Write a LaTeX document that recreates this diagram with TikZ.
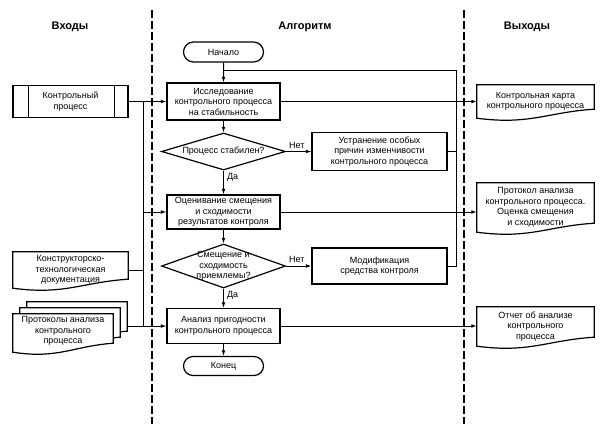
\documentclass[tikz,border=0pt]{standalone}
\usepackage{fontspec}
\setmainfont{Liberation Sans}
\usetikzlibrary{shapes.geometric,shapes.misc,arrows.meta,calc}
\tikzset{
  txt/.style={font=\fontsize{9}{10.5}\selectfont, align=center, inner sep=0pt},
  hdr/.style={font=\fontsize{11}{13}\selectfont\bfseries, inner sep=0pt},
  proc/.style={txt, draw, line width=1.2pt, minimum width=113pt, minimum height=#1},
  term/.style={txt, draw, line width=1.2pt, rounded rectangle, minimum width=80pt, minimum height=#1},
  dec/.style={draw, line width=1.2pt, diamond, inner sep=0pt, minimum width=124pt, minimum height=#1},
  docbox/.style={txt, minimum width=#1},
  docline/.style={line width=1.2pt},
  conn/.style={line width=1pt},
  arr/.style={line width=1pt, -{Latex[length=5.5pt,width=3.8pt]}},
  lane/.style={line width=1.2pt, dash pattern=on 8pt off 3pt},
}
\newcommand\docpath[2][]{\draw[docline,#1] (#2.north west) -- (#2.north east) -- ([yshift=9pt]#2.south east) .. controls ($(#2.south west)!0.6!(#2.south east)+(0,6pt)$) and ($(#2.south west)!0.45!(#2.south east)+(0,-7pt)$) .. (#2.south west) -- cycle;}
\begin{document}
\begin{tikzpicture}[x=1pt,y=-1pt]
\useasboundingbox (0,0) rectangle (605,424);
% lanes
\draw[lane] (152,10) -- (152,424);
\draw[lane] (464,10) -- (464,424);
\node[hdr] (h1) at (70,27) {Входы};
\node[hdr] (h2) at (305,27) {Алгоритм};
\node[hdr] (h3) at (527,27) {Выходы};
% algorithm
\node[term=20pt] (start) at (223.5,52) {Начало};
\node[proc=37pt] (b1) at (223.5,101.5) {Исследование\\контрольного процесса\\на стабильность};
\node[dec=37pt] (d1) at (223.5,151.5) {};
\node[txt] (d1t) at (d1) {Процесс стабилен?};
\node[proc=38pt, minimum width=135pt] (f1) at (379.5,151.5) {Устранение особых\\причин изменчивости\\контрольного процесса};
\node[proc=34pt] (b2) at (223.5,212) {Оценивание смещения\\и сходимости\\результатов контроля};
\node[dec=44pt] (d2) at (223.5,266) {};
\node[txt] (d2t) at (d2) {Смещение и\\сходимость\\приемлемы?};
\node[proc=36pt, minimum width=135pt] (f2) at (379.5,266) {Модификация\\средства контроля};
\node[proc=35pt] (b5) at (223.5,326) {Анализ пригодности\\контрольного процесса};
\node[term=19pt] (end) at (223.5,366) {Конец};
% inputs
\node[txt, draw, line width=1.2pt, minimum width=115pt, minimum height=32pt] (in1) at (70.5,101.5) {Контрольный\\процесс};
\draw[docline] ([xshift=16pt]in1.north west) -- ([xshift=16pt]in1.south west);
\draw[docline] ([xshift=-14pt]in1.north east) -- ([xshift=-14pt]in1.south east);
\node[docbox=115pt, minimum height=36pt] (in2) at (70.5,270) {Конструкторско-\\технологическая\\документация};
\docpath{in2}
\node[docbox=100pt, minimum height=38pt] (pr3) at (77,321) {};
\node[docbox=100pt, minimum height=38pt] (pr2) at (70,327) {};
\node[docbox=100pt, minimum height=38pt] (pr1) at (63,333) {};
\docpath[fill=white]{pr3}
\docpath[fill=white]{pr2}
\docpath[fill=white]{pr1}
\node[txt] (pr1t) at ([yshift=2pt]pr1.center) {Протоколы анализа\\контрольного\\процесса};
% outputs
\node[docbox=117pt, minimum height=33pt] (o1) at (535.5,101.5) {Контрольная карта\\контрольного процесса};
\docpath{o1}
\node[docbox=117pt, minimum height=49pt] (o2) at (535.5,207.5) {Протокол анализа\\контрольного процесса.\\Оценка смещения\\и сходимости};
\docpath{o2}
\node[docbox=117pt, minimum height=39pt] (o3) at (535.5,326.5) {Отчет об анализе\\контрольного\\процесса};
\docpath{o3}
% coordinates
\coordinate (bx) at (143,0);
\coordinate (lx) at (456,0);
\coordinate (lp) at (223.5,70);
% flow
\draw[arr] (start) -- (b1);
\draw[arr] (b1) -- (d1);
\draw[arr] (d1) -- node[txt, anchor=west, pos=0.3, xshift=3pt] {Да} (b2);
\draw[arr] (b2) -- (d2);
\draw[arr] (d2) -- node[txt, anchor=west, pos=0.35, xshift=3pt] {Да} (b5);
\draw[arr] (b5) -- (end);
\draw[arr] (d1) -- node[txt, anchor=south, pos=0.42, yshift=2pt] {Нет} (f1);
\draw[arr] (d2) -- node[txt, anchor=south, pos=0.42, yshift=3pt] {Нет} (f2);
% feedback
\draw[conn] (f2.east) -| (lx |- lp) -- (lp);
\draw[conn] (f1.east) -- (f1.east -| lx);
% inputs bus
\draw[arr] (in1.east) -- (b1.west);
\draw[conn] (in1.east -| bx) -- (bx |- b5.west);
\draw[arr] (bx |- b2.west) -- (b2.west);
\draw[conn] (in2.east) -- (in2.east -| bx);
\draw[arr] (pr3.east |- b5.west) -- (b5.west);
% outputs
\draw[arr] (b1.east) -- (o1.west);
\draw[arr] (b2.east) -- (b2.east -| o2.west);
\draw[arr] (b5.east) -- (b5.east -| o3.west);
\end{tikzpicture}
\end{document}
